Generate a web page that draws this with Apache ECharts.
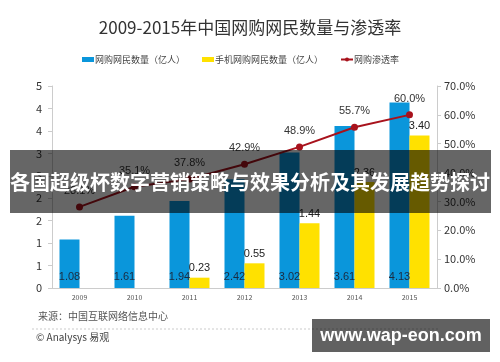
<!DOCTYPE html>
<html><head><meta charset="utf-8">
<script src="https://cdn.jsdelivr.net/npm/echarts@6/dist/echarts.min.js"></script>
<style>html,body{margin:0;padding:0;background:#fff}#c{width:500px;height:362px}</style>
</head><body><div id="c"></div>
<script>
const years = ['2009','2010','2011','2012','2013','2014','2015'];
const netShoppers = [1.08, 1.61, 1.94, 2.42, 3.02, 3.61, 4.13];
const mobileShoppers = [null, null, 0.23, 0.55, 1.44, 2.36, 3.40];
const penetration = [28.1, 35.1, 37.8, 42.9, 48.9, 55.7, 60.0];
const leftTicks = {min: 0, max: 4.5, interval: 0.5};
const rightTicks = {min: 0, max: 70, interval: 10};

const FONT = '"Noto Sans CJK SC", "Liberation Sans", sans-serif';
const chart = echarts.init(document.getElementById('c'), null, {renderer: 'canvas'});
chart.setOption({
  animation: false,
  textStyle: {fontFamily: FONT},
  title: {
    text: '2009-2015年中国网购网民数量与渗透率',
    left: 'center', top: 14,
    textStyle: {fontSize: 17, fontWeight: 'normal', color: '#333', fontFamily: FONT}
  },
  legend: {
    left: 77, top: 50,
    itemWidth: 12, itemHeight: 5, itemGap: 17,
    textStyle: {fontSize: 9, color: '#444', padding: [0,0,0,-4]},
    data: [
      {name: '网购网民数量（亿人）', icon: 'rect'},
      {name: '手机网购网民数量（亿人）', icon: 'rect'},
      {name: '网购渗透率'}
    ]
  },
  grid: {left: 52, right: 63, top: 86, bottom: 74},
  xAxis: {
    type: 'category', data: years,
    axisLine: {lineStyle: {color: '#ccc'}},
    axisTick: {show: false},
    axisLabel: {fontSize: 7, color: '#555', margin: 6}
  },
  yAxis: [
    {
      type: 'value', min: leftTicks.min, max: leftTicks.max, interval: leftTicks.interval,
      splitLine: {show: false},
      axisLine: {show: true, lineStyle: {color: '#ccc'}},
      axisTick: {show: true, length: 4, lineStyle: {color: '#ccc'}},
      axisLabel: {fontSize: 11, color: '#333', margin: 10, formatter: v => String(Math.round(v))}
    },
    {
      type: 'value', min: rightTicks.min, max: rightTicks.max, interval: rightTicks.interval,
      splitLine: {show: false},
      axisLine: {show: true, lineStyle: {color: '#ccc'}},
      axisTick: {show: true, length: 4, lineStyle: {color: '#ccc'}},
      axisLabel: {fontSize: 11, color: '#333', margin: 7, formatter: v => v.toFixed(1) + '%'}
    }
  ],
  series: [
    {
      name: '网购网民数量（亿人）', type: 'bar', data: netShoppers,
      barWidth: 20, barGap: '0%',
      itemStyle: {color: '#0a96db'},
      label: {show: true, position: 'insideBottom', distance: 6, fontSize: 11, color: '#1b2b40',
        fontFamily: 'Liberation Sans', formatter: p => p.value.toFixed(2)},
      z: 2
    },
    {
      name: '手机网购网民数量（亿人）', type: 'bar', data: mobileShoppers,
      barWidth: 20, barGap: '0%',
      itemStyle: {color: '#ffe100'},
      label: {show: true, position: 'top', distance: 4, fontSize: 11, color: '#222',
        fontFamily: 'Liberation Sans', formatter: p => p.value == null ? '' : p.value.toFixed(2)},
      z: 2
    },
    {
      name: '网购渗透率', type: 'line', yAxisIndex: 1, data: penetration,
      symbol: 'circle', symbolSize: 7,
      lineStyle: {color: '#a8121c', width: 2},
      itemStyle: {color: '#a8121c'},
      label: {show: true, position: 'top', distance: 7, fontSize: 11, color: '#333',
        fontFamily: 'Liberation Sans', formatter: p => p.value.toFixed(1) + '%'},
      z: 3
    }
  ],
  graphic: [
    {type: 'text', left: 38, top: 311, style: {text: '来源：中国互联网络信息中心', fontSize: 10, fill: '#555', fontFamily: FONT}},
    {type: 'line', shape: {x1: 32, y1: 329, x2: 440, y2: 329}, style: {stroke: '#ccc', lineDash: [2, 2], lineWidth: 1}},
    {type: 'text', left: 36, top: 332, style: {text: '© Analysys 易观', fontSize: 10, fill: '#444', fontFamily: FONT}},
    {type: 'rect', shape: {x: 10, y: 150, width: 481, height: 63}, style: {fill: 'rgba(0,0,0,0.6)'}, z: 100},
    {type: 'text', x: 250, y: 182, z: 101, style: {text: '各国超级杯数字营销策略与效果分析及其发展趋势探讨', fontSize: 20, fontWeight: 'bold', fill: '#fff', align: 'center', verticalAlign: 'middle', fontFamily: FONT}},
    {type: 'rect', shape: {x: 312, y: 319, width: 178, height: 33}, style: {fill: 'rgba(0,0,0,0.62)'}, z: 100},
    {type: 'text', x: 401, y: 336, z: 101, style: {text: 'www.wap-eon.com', fontSize: 18, fontWeight: 'bold', fill: '#fff', align: 'center', verticalAlign: 'middle', fontFamily: '"Liberation Sans", sans-serif'}}
  ]
});
</script></body></html>
